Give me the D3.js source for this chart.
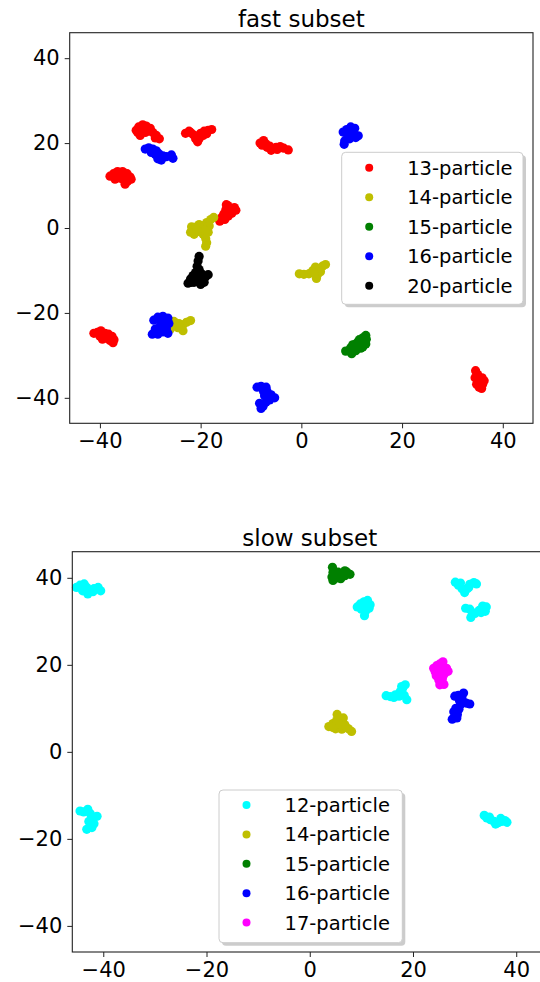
<!DOCTYPE html>
<html>
<head>
<meta charset="utf-8">
<script src="https://cdn.jsdelivr.net/npm/d3@7.9.0/dist/d3.min.js"></script>
<style>
  body { margin: 0; background: #fff; }
  svg { display: block; font-family: "DejaVu Sans", sans-serif; }
</style>
</head>
<body>
<script>
// tick values shared by both panels
const tickValues = [-40, -20, 0, 20, 40];

// ---- fast subset ----
const fastLabels = ["13-particle", "14-particle", "15-particle", "16-particle", "20-particle"];
const fastColors = ["#ff0000", "#bfbf00", "#008000", "#0000ff", "#000000"];

const fast13 = [
  [-32.8,23.0],[-32.3,23.8],[-31.5,24.3],[-30.8,24.0],[-30.0,23.5],[-29.5,22.5],[-28.8,21.8],[-28.2,21.0],[-32.0,21.8],[-31.0,22.5],[-30.5,22.8],[-29.0,21.2],[-32.5,22.5],[-31.8,23.2],
  [-23.0,22.3],[-22.3,22.8],[-21.5,22.0],[-20.8,21.5],[-20.0,22.3],[-19.3,22.8],[-18.5,23.0],[-17.8,23.2],[-20.6,20.3],[-21.0,21.0],[-19.5,21.8],[-18.8,22.2],[-22.0,22.5],[-20.3,21.0],
  [-8.2,20.0],[-7.5,20.6],[-7.0,19.8],[-6.3,19.3],[-5.8,18.7],[-5.0,19.0],[-4.2,19.2],[-3.5,18.8],[-2.6,18.4],[-6.8,19.0],[-7.8,19.5],[-4.8,18.5],[-6.0,18.3],
  [-38.0,12.2],[-37.3,12.8],[-36.5,13.3],[-35.5,13.3],[-34.6,12.8],[-34.0,12.0],[-33.8,11.5],[-35.5,11.5],[-36.5,11.8],[-35.0,10.3],[-37.0,11.5],[-34.5,11.0],[-36.0,12.5],[-35.2,12.2],
  [-16.2,1.6],[-15.8,2.5],[-15.4,3.3],[-15.0,4.3],[-14.6,5.3],[-14.0,4.5],[-13.3,4.8],[-13.8,3.5],[-14.5,2.8],[-15.2,2.0],[-13.0,4.2],[-14.9,5.5],[-14.3,3.8],
  [-41.2,-24.8],[-40.5,-24.6],[-39.8,-24.2],[-39.0,-24.8],[-38.3,-25.0],[-37.6,-25.5],[-37.2,-26.3],[-37.4,-27.0],[-38.5,-26.0],[-39.5,-26.2],[-40.0,-25.5],[-38.0,-26.5],[-39.2,-25.5],
  [34.6,-33.6],[34.9,-34.5],[34.5,-35.3],[35.2,-35.5],[35.9,-35.3],[36.3,-36.0],[35.5,-36.5],[34.8,-36.8],[35.3,-37.5],[35.8,-37.8],[36.0,-36.8],[35.0,-34.5],[35.6,-36.0]
];
const fast14 = [
  [-22.0,-1.0],[-21.8,0.3],[-21.0,0.2],[-20.3,0.8],[-19.5,0.5],[-18.8,1.3],[-18.0,2.0],[-17.4,2.5],[-20.5,-0.8],[-19.5,-1.5],[-19.0,-2.5],[-18.8,-3.5],[-19.0,-4.3],[-18.5,-1.0],[-21.3,-1.5],[-20.0,0.0],[-18.3,0.5],[-19.2,-0.5],[-20.8,-0.3],
  [-0.4,-10.8],[0.5,-10.9],[1.5,-10.8],[2.3,-10.0],[2.8,-9.2],[3.5,-9.6],[4.2,-9.0],[4.8,-8.6],[3.2,-11.0],[3.0,-11.9],[2.0,-10.5],[3.8,-10.3],[2.6,-10.6],
  [-26.0,-23.8],[-25.5,-23.0],[-25.0,-22.4],[-24.3,-22.5],[-23.5,-22.8],[-22.8,-22.2],[-22.0,-21.8],[-23.5,-24.2],[-24.5,-23.5],[-25.3,-22.0],[-24.0,-23.3]
];
const fast15 = [
  [8.8,-29.0],[9.5,-28.8],[10.0,-29.6],[10.5,-28.3],[11.0,-28.0],[11.5,-27.5],[12.0,-27.0],[12.5,-26.5],[12.8,-25.3],[12.3,-25.8],[11.3,-26.8],[10.2,-27.5],[12.8,-27.3],[11.8,-28.3],[9.8,-28.2],
  [10.8,-28.9],[11.5,-26.3],[12.2,-28.0],[10.9,-27.2],[12.9,-26.2]
];
const fast16 = [
  [-31.0,18.6],[-30.3,18.9],[-29.5,18.6],[-28.8,18.2],[-28.3,17.5],[-27.5,17.0],[-26.8,16.8],[-25.8,17.2],[-25.5,16.4],[-28.5,16.3],[-29.8,17.8],[-27.8,16.0],[-29.0,17.3],
  [8.3,22.6],[9.0,23.2],[9.8,23.8],[10.6,23.5],[10.0,22.5],[9.3,21.8],[8.6,20.5],[8.5,19.7],[10.8,21.3],[11.3,21.7],[9.6,21.0],[10.5,22.0],[9.0,22.3],
  [-29.3,-21.7],[-28.5,-21.0],[-27.5,-20.8],[-26.5,-21.2],[-26.3,-22.5],[-27.2,-23.0],[-28.3,-23.5],[-29.0,-23.8],[-29.6,-25.0],[-28.5,-25.0],[-27.5,-24.5],[-26.5,-24.8],[-27.8,-22.2],[-26.8,-23.8],
  [-8.8,-37.5],[-8.0,-37.3],[-7.0,-37.5],[-6.8,-38.5],[-6.0,-39.3],[-5.3,-40.0],[-6.3,-40.5],[-7.0,-41.0],[-7.6,-42.0],[-8.0,-42.5],[-8.3,-41.3],[-7.3,-39.5],[-7.5,-38.5]
];
const fast20 = [
  [-20.3,-6.7],[-20.5,-7.8],[-20.7,-9.0],[-20.3,-9.8],[-21.0,-10.5],[-21.5,-11.2],[-22.0,-12.0],[-22.5,-13.0],[-21.3,-12.8],[-20.5,-12.0],[-20.0,-13.3],[-19.3,-12.8],[-19.0,-11.5],[-18.5,-11.0],[-19.8,-10.8],[-21.8,-12.8],[-20.8,-11.5]
];

// ---- slow subset ----
const slowLabels = ["12-particle", "14-particle", "15-particle", "16-particle", "17-particle"];
const slowColors = ["#00ffff", "#bfbf00", "#008000", "#0000ff", "#ff00ff"];

const slow12 = [
  [-45.2,37.8],[-44.5,38.3],[-43.7,38.6],[-43.2,37.8],[-42.5,37.2],[-41.8,37.5],[-41.0,37.8],[-40.5,37.0],[-43.0,36.3],[-44.0,37.0],[-42.0,36.8],
  [9.2,33.3],[9.8,34.0],[10.5,34.5],[11.2,34.8],[11.7,33.8],[11.5,33.0],[10.8,32.3],[10.6,31.3],[10.0,32.8],[11.0,33.5],
  [28.2,39.0],[28.8,38.3],[29.5,37.5],[30.0,36.6],[30.5,37.5],[31.0,38.5],[31.8,38.9],[32.3,38.6],[29.2,38.8],[30.8,37.8],
  [30.2,33.0],[31.0,32.8],[31.5,32.0],[31.2,30.9],[32.0,31.8],[32.8,32.5],[33.5,33.5],[34.2,33.3],[34.0,32.3],[33.2,32.0],
  [14.8,12.9],[15.6,12.7],[16.3,12.5],[17.0,13.0],[17.5,13.8],[18.0,14.6],[18.5,15.4],[17.8,15.0],[18.3,13.0],[18.8,12.0],[17.3,12.8],[16.6,13.1],
  [-44.5,-13.6],[-43.8,-13.8],[-43.0,-13.2],[-42.5,-14.2],[-41.2,-14.8],[-42.0,-15.5],[-41.8,-16.5],[-42.2,-17.4],[-43.2,-17.8],[-42.8,-16.0],
  [33.8,-14.6],[34.3,-15.2],[35.0,-15.6],[35.7,-16.0],[36.5,-16.3],[37.2,-16.0],[37.8,-15.8],[38.2,-16.2],[36.0,-16.6],[34.8,-15.0],[37.0,-15.3]
];
const slow14 = [
  [3.7,5.8],[4.5,6.5],[5.2,7.2],[5.3,8.6],[6.0,7.5],[6.5,7.8],[6.8,6.2],[7.5,5.3],[8.1,4.7],[6.2,5.2],[5.0,5.3],[4.5,5.6],[5.8,6.3],[7.0,5.6]
];
const slow15 = [
  [4.4,42.4],[4.5,41.3],[4.3,40.2],[4.5,39.4],[5.3,40.0],[5.8,40.7],[6.5,41.0],[7.2,41.3],[7.8,40.8],[6.8,40.5],[5.5,41.3],[6.0,39.8],[5.0,40.8],[6.8,41.6]
];
const slow16 = [
  [28.1,12.8],[28.8,13.0],[29.8,13.5],[29.5,12.2],[30.3,11.2],[31.0,11.0],[29.2,10.8],[28.3,10.0],[27.9,9.2],[28.6,8.6],[27.6,7.5],[28.5,7.8],[29.0,11.8],[28.9,9.8]
];
const slow17 = [
  [24.0,19.2],[24.6,19.8],[25.2,20.2],[25.8,20.7],[26.5,19.2],[26.8,18.5],[26.0,17.8],[25.3,18.0],[24.5,17.5],[25.0,16.5],[25.2,15.4],[26.0,15.5],[25.5,19.0],[24.3,18.4],[25.7,16.8]
];

const svg = d3.select("body").append("svg")
    .attr("width", 540)
    .attr("height", 982);

function drawPanel(opts) {
    const x = d3.scaleLinear().domain([-46, 46]).range([opts.left, opts.right]);
    const y = d3.scaleLinear().domain([-46, 46]).range([opts.bottom, opts.top]);
    const g = svg.append("g");

    // points, series drawn in legend order
    opts.series.forEach((pts, i) => {
        g.append("g").selectAll("circle")
            .data(pts)
            .enter().append("circle")
            .attr("cx", d => x(d[0]))
            .attr("cy", d => y(d[1]))
            .attr("r", 4.6)
            .attr("fill", opts.colors[i]);
    });

    // frame
    g.append("rect")
        .attr("x", opts.left).attr("y", opts.top)
        .attr("width", opts.right - opts.left)
        .attr("height", opts.bottom - opts.top)
        .attr("fill", "none")
        .attr("stroke", "#222")
        .attr("stroke-width", 1.1);

    const xAxis = g.append("g")
        .attr("transform", `translate(0,${opts.bottom})`)
        .call(d3.axisBottom(x).tickValues(tickValues).tickSize(5).tickPadding(5));
    const yAxis = g.append("g")
        .attr("transform", `translate(${opts.left},0)`)
        .call(d3.axisLeft(y).tickValues(tickValues).tickSize(5).tickPadding(5));
    [xAxis, yAxis].forEach(a => {
        a.select(".domain").remove();
        a.selectAll("text").attr("font-size", 21).attr("fill", "#000")
            .attr("font-family", "DejaVu Sans");
        a.selectAll("line").attr("stroke", "#222");
    });

    // title
    g.append("text")
        .attr("x", (opts.left + opts.right) / 2)
        .attr("y", opts.titleY)
        .attr("text-anchor", "middle")
        .attr("font-size", 23)
        .text(opts.title);

    // legend
    const L = opts.legend;
    const lg = g.append("g");
    lg.append("rect")
        .attr("x", L.x + 3).attr("y", L.y + 3)
        .attr("width", L.w).attr("height", L.h)
        .attr("rx", 4)
        .attr("fill", "#999").attr("opacity", 0.5);
    lg.append("rect")
        .attr("x", L.x).attr("y", L.y)
        .attr("width", L.w).attr("height", L.h)
        .attr("rx", 4)
        .attr("fill", "#fff")
        .attr("stroke", "#cccccc");
    opts.labels.forEach((lab, i) => {
        const cy = L.y + L.first + i * L.step;
        lg.append("circle")
            .attr("cx", L.x + 27.5).attr("cy", cy).attr("r", 4)
            .attr("fill", opts.colors[i]);
        lg.append("text")
            .attr("x", L.x + 65.5).attr("y", cy + 7)
            .attr("font-size", 19.5)
            .text(lab);
    });
}

drawPanel({
    title: "fast subset", titleY: 26.5,
    left: 69.7, right: 533, top: 32.7, bottom: 423.3,
    series: [fast13, fast14, fast15, fast16, fast20],
    colors: fastColors, labels: fastLabels,
    legend: { x: 341.7, y: 152.3, w: 181.3, h: 152, first: 15.4, step: 29.5 }
});

drawPanel({
    title: "slow subset", titleY: 545.8,
    left: 72.3, right: 547.2, top: 551.7, bottom: 952,
    series: [slow12, slow14, slow15, slow16, slow17],
    colors: slowColors, labels: slowLabels,
    legend: { x: 219, y: 790, w: 183.3, h: 152.7, first: 15, step: 29.4 }
});
</script>
</body>
</html>
